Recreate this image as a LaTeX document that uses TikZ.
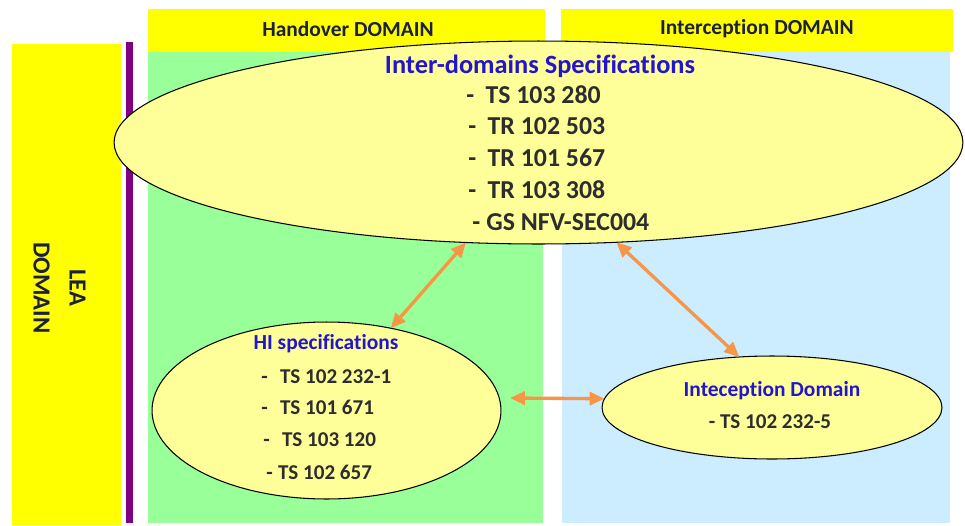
\documentclass[tikz,border=0pt]{standalone}
\usepackage{fontspec}
\setmainfont{Carlito}[Ligatures=NoCommon]
\usetikzlibrary{arrows.meta,shapes.geometric}
\definecolor{hdryellow}{RGB}{255,255,0}
\definecolor{hogreen}{RGB}{153,255,153}
\definecolor{icblue}{RGB}{204,236,255}
\definecolor{elfill}{RGB}{255,255,153}
\definecolor{navytxt}{RGB}{28,32,64}
\definecolor{spectxt}{RGB}{45,45,45}
\definecolor{titleblue}{RGB}{35,20,205}
\definecolor{purplebar}{RGB}{128,0,128}
\definecolor{arrorange}{RGB}{247,150,70}
\tikzset{
  spec/.style={ellipse, draw=black, line width=0.6pt, fill=elfill, inner sep=0pt, outer sep=0pt},
  hdrtext/.style={text=navytxt, font=\bfseries\fontsize{12.2}{14}\selectfont, inner sep=0pt},
  bigtitle/.style={text=titleblue, font=\bfseries\fontsize{15}{18}\selectfont, inner sep=0pt},
  bigline/.style={text=spectxt, font=\bfseries\fontsize{14.7}{17}\selectfont, inner sep=0pt, anchor=west, text height=0.64em, text depth=0pt},
  smalltitle/.style={text=titleblue, font=\bfseries\fontsize{12.2}{14}\selectfont, inner sep=0pt},
  smallline/.style={text=spectxt, font=\bfseries\fontsize{12}{14}\selectfont, inner sep=0pt, anchor=west, text height=0.64em, text depth=0pt},
  link/.style={draw=arrorange, line width=1.9pt, {Triangle[length=8.5pt,width=7.5pt]}-{Triangle[length=8.5pt,width=7.5pt]}}
}
\begin{document}
\begin{tikzpicture}[x=0.02cm, y=-0.02cm]
\useasboundingbox (0,0) rectangle (965,525);
% regions
\fill[hdryellow] (12,44) rectangle (121,525);
\fill[purplebar] (126,42) rectangle (133,523);
\fill[hdryellow] (148,9) rectangle (545,52);
\fill[hogreen] (148,52) rectangle (543,523);
\fill[hdryellow] (561,9) rectangle (953,52);
\fill[icblue] (562,52) rectangle (950,523);
\node[hdrtext] (hoh) at (348,29) {Handover DOMAIN};
\node[hdrtext] (ich) at (757,29) {Interception DOMAIN};
\node[text=navytxt, font=\bfseries\fontsize{14}{20.4}\selectfont, rotate=-90, align=center, inner sep=0pt] (lea) at (59.5,288) {LEA\\DOMAIN};
% ellipses
\node[spec, minimum width=16.98cm, minimum height=4.06cm] (big) at (538.5,142.5) {};
\node[spec, minimum width=6.98cm, minimum height=3.54cm] (hi) at (326.5,410.5) {};
\node[spec, minimum width=6.8cm, minimum height=2.06cm] (ic) at (772,407.5) {};
% big ellipse texts
\node[bigtitle] (bt) at (540,66) {Inter-domains Specifications};
\node[bigline] (b1) at (466,98) {-\hspace{6.5pt}TS 103 280};
\node[bigline] (b2) at (468,129) {-\hspace{6.5pt}TR 102 503};
\node[bigline] (b3) at (468,161) {-\hspace{6.5pt}TR 101 567};
\node[bigline] (b4) at (468,193) {-\hspace{6.5pt}TR 103 308};
\node[bigline] (b5) at (472,225) {-\hspace{3.5pt}GS NFV-SEC004};
% HI texts
\node[smalltitle] (ht) at (326,344) {HI specifications};
\node[smallline] (h1) at (261,378) {-\hspace{7pt}TS 102 232-1};
\node[smallline] (h2) at (261,409) {-\hspace{7pt}TS 101 671};
\node[smallline] (h3) at (263,441) {-\hspace{7pt}TS 103 120};
\node[smallline] (h4) at (266,474) {-\hspace{3pt}TS 102 657};
% Interception texts
\node[smalltitle] (it) at (772,391) {Inteception Domain};
\node[smallline, anchor=center] (i1) at (770,423) {- TS 102 232-5};
% links
\draw[link] (big.234.9) -- (hi.52.5);
\draw[link] (big.308.6) -- (ic.123.2);
\draw[link] ([shift={(9,-12.5)}]hi.east) -- (ic.177);
\end{tikzpicture}
\end{document}
